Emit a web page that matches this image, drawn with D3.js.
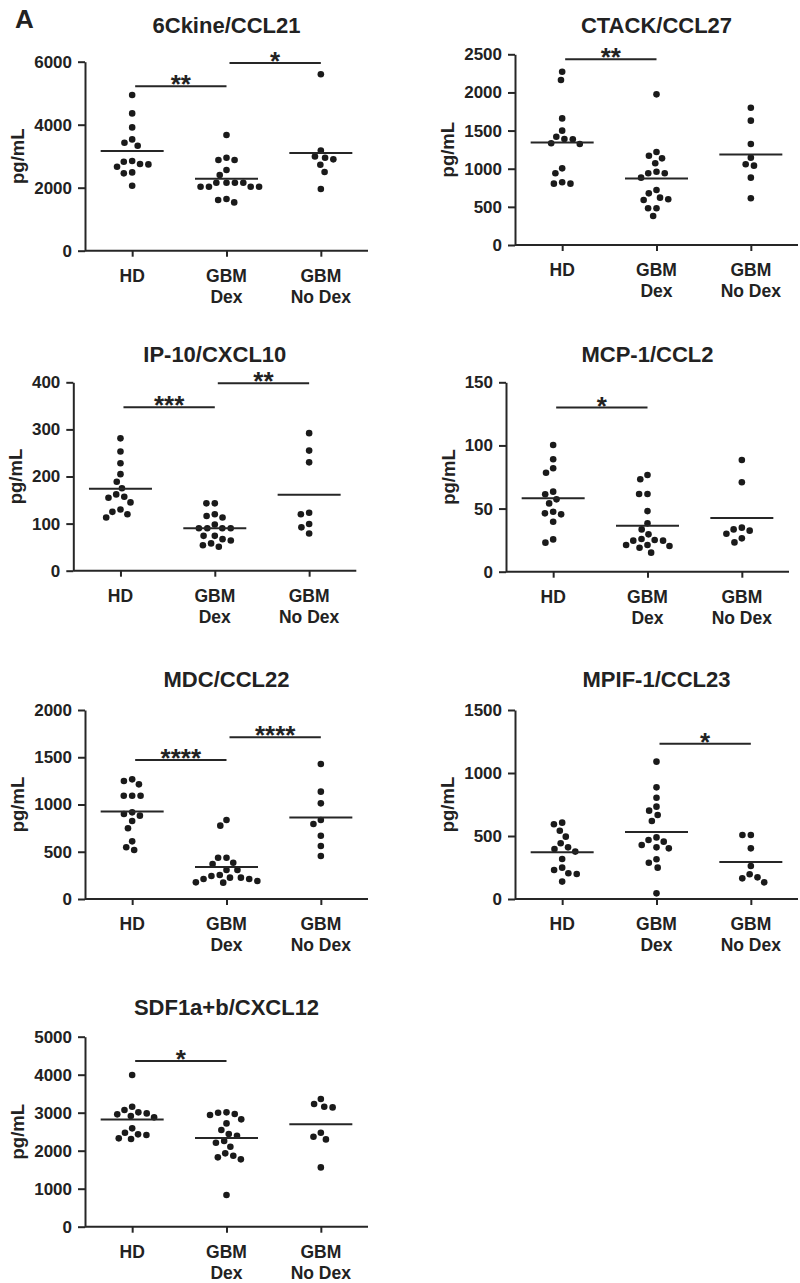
<!DOCTYPE html>
<html><head><meta charset="utf-8">
<script src="https://cdn.jsdelivr.net/npm/d3@7"></script>
<style>
body{margin:0;background:#fff}
text{font-family:"Liberation Sans",Arial,Helvetica,sans-serif;font-weight:bold;fill:#222}
</style>
</head><body>
<svg id="chart" width="800" height="1283"></svg>
<script>
// ---------- DATA ----------
const groups = ["HD", "GBM Dex", "GBM No Dex"];
const groupLabels = [["HD"], ["GBM", "Dex"], ["GBM", "No Dex"]];

const ccl21Title = "6Ckine/CCL21";
const ccl21Ticks = [0, 2000, 4000, 6000];
const ccl21HD = [4941, 4359, 3915, 3534, 3428, 3333, 2846, 2825, 2751, 2740, 2666, 2486, 2455, 2063];
const ccl21Dex = [3671, 2952, 2878, 2878, 2560, 2402, 2158, 2158, 2158, 2158, 2031, 2031, 2031, 2031, 1640, 1608, 1534];
const ccl21NoDex = [5600, 3180, 2990, 2950, 2900, 2730, 2500, 1960];
const ccl21Sig = [{a: 0, b: 1, y: 5220, label: "**"}, {a: 1, b: 2, y: 5960, label: "*"}];

const ccl27Title = "CTACK/CCL27";
const ccl27Ticks = [0, 500, 1000, 1500, 2000, 2500];
const ccl27HD = [2272, 2163, 1660, 1499, 1420, 1385, 1324, 1333, 1390, 1005, 940, 822, 804, 804];
const ccl27Dex = [1975, 1219, 1171, 1136, 1071, 961, 940, 940, 883, 721, 677, 621, 599, 590, 481, 481, 380];
const ccl27NoDex = [1800, 1630, 1324, 1145, 1040, 1058, 883, 612];
const ccl27Sig = [{a: 0, b: 1, y: 2435, label: "**"}];

const cxcl10Title = "IP-10/CXCL10";
const cxcl10Ticks = [0, 100, 200, 300, 400];
const cxcl10HD = [281, 253, 228, 205, 189, 175, 162, 155, 157, 145, 125, 130, 113, 120];
const cxcl10Dex = [143, 143, 116, 120, 113, 98, 90, 90, 90, 90, 67, 74, 74, 64, 58, 51, 54];
const cxcl10NoDex = [292, 255, 230, 123, 120, 99, 92, 79];
const cxcl10Sig = [{a: 0, b: 1, y: 347, label: "***"}, {a: 1, b: 2, y: 398, label: "**"}];

const ccl2Title = "MCP-1/CCL2";
const ccl2Ticks = [0, 50, 100, 150];
const ccl2HD = [100.4, 89, 81.9, 78.4, 61.3, 57.3, 63.4, 54.1, 46.2, 45.4, 47.5, 39.6, 25.6, 23];
const ccl2Dex = [73.2, 76.6, 61.5, 61.5, 48, 38.3, 33.5, 29.6, 25.9, 21.1, 24.6, 25.1, 24.6, 20.3, 15.1, 19, 21.1];
const ccl2NoDex = [88.5, 70.8, 33.5, 32.5, 34.9, 30.1, 23.2, 26.4];
const ccl2Sig = [{a: 0, b: 1, y: 130, label: "*"}];

const ccl22Title = "MDC/CCL22";
const ccl22Ticks = [0, 500, 1000, 1500, 2000];
const ccl22HD = [1266, 1213, 1249, 1093, 1093, 1093, 917, 882, 899, 825, 748, 610, 518, 547];
const ccl22Dex = [836, 776, 437, 437, 384, 370, 307, 307, 254, 226, 212, 173, 176, 212, 226, 243, 190];
const ccl22NoDex = [1428, 1136, 1012, 836, 794, 670, 561, 455];
const ccl22Sig = [{a: 0, b: 1, y: 1471, label: "****"}, {a: 1, b: 2, y: 1711, label: "****"}];

const ccl23Title = "MPIF-1/CCL23";
const ccl23Ticks = [0, 500, 1000, 1500];
const ccl23HD = [606, 593, 542, 495, 442, 410, 397, 376, 317, 249, 230, 204, 198, 138];
const ccl23Dex = [1090, 886, 804, 733, 701, 667, 619, 489, 468, 455, 429, 402, 410, 288, 315, 249, 45];
const ccl23NoDex = [508, 508, 402, 262, 172, 164, 196, 132];
const ccl23Sig = [{a: 1, b: 2, y: 1232, label: "*"}];

const cxcl12Title = "SDF1a+b/CXCL12";
const cxcl12Ticks = [0, 1000, 2000, 3000, 4000, 5000];
const cxcl12HD = [3991, 3009, 2956, 2877, 3158, 2912, 2982, 3070, 2588, 2474, 2412, 2307, 2325, 2430];
const cxcl12Dex = [3000, 2939, 2965, 3009, 2825, 2719, 2544, 2439, 2395, 2254, 2211, 2105, 1930, 1825, 1772, 1868, 833];
const cxcl12NoDex = [3228, 3140, 3158, 3360, 2368, 2298, 2474, 1561];
const cxcl12Sig = [{a: 0, b: 1, y: 4360, label: "*"}];

const yLabel = "pg/mL";
const panelLetter = "A";

// ---------- LAYOUT ----------
const panels = [
  {title: ccl21Title, ticks: ccl21Ticks, series: [ccl21HD, ccl21Dex, ccl21NoDex], sig: ccl21Sig, ax: 85, top: 61.7, bot: 250.7, tb: 33},
  {title: ccl27Title, ticks: ccl27Ticks, series: [ccl27HD, ccl27Dex, ccl27NoDex], sig: ccl27Sig, ax: 515, top: 54.3, bot: 245, tb: 33},
  {title: cxcl10Title, ticks: cxcl10Ticks, series: [cxcl10HD, cxcl10Dex, cxcl10NoDex], sig: cxcl10Sig, ax: 73.3, top: 382.3, bot: 570.7, tb: 362},
  {title: ccl2Title, ticks: ccl2Ticks, series: [ccl2HD, ccl2Dex, ccl2NoDex], sig: ccl2Sig, ax: 506, top: 382.3, bot: 571.7, tb: 362},
  {title: ccl22Title, ticks: ccl22Ticks, series: [ccl22HD, ccl22Dex, ccl22NoDex], sig: ccl22Sig, ax: 85, top: 710, bot: 899, tb: 687},
  {title: ccl23Title, ticks: ccl23Ticks, series: [ccl23HD, ccl23Dex, ccl23NoDex], sig: ccl23Sig, ax: 515, top: 710, bot: 899, tb: 687},
  {title: cxcl12Title, ticks: cxcl12Ticks, series: [cxcl12HD, cxcl12Dex, cxcl12NoDex], sig: cxcl12Sig, ax: 85, top: 1036.7, bot: 1226.7, tb: 1015}
];

const AXIS_W = 283;
const INK = "#262626";
const svg = d3.select("#chart");

svg.append("text").attr("x", 15).attr("y", 28).style("font-size", "26px").text(panelLetter);

function swarm(vals, y, D) {
  const order = vals.map((v, i) => i).sort((a, b) => vals[b] - vals[a]);
  const placed = [], out = new Array(vals.length);
  for (const i of order) {
    const py = y(vals[i]);
    const ints = [];
    for (const p of placed) {
      const dy = Math.abs(p.y - py);
      if (dy < D) { const w = Math.sqrt(D * D - dy * dy); ints.push([p.x - w, p.x + w]); }
    }
    const cands = [0];
    ints.forEach(([a, b]) => cands.push(a, b));
    cands.sort((a, b) => Math.abs(a) - Math.abs(b) || a - b);
    let x = 0;
    for (const c of cands) {
      if (ints.every(([a, b]) => c <= a + 1e-6 || c >= b - 1e-6)) { x = c; break; }
    }
    placed.push({x, y: py});
    out[i] = x;
  }
  return out;
}

panels.forEach(p => {
  const g = svg.append("g");
  const x = d3.scalePoint().domain(groups).range([p.ax, p.ax + AXIS_W]).padding(0.5);
  const y = d3.scaleLinear().domain([0, d3.max(p.ticks)]).range([p.bot, p.top]);

  // title
  g.append("text").attr("x", p.ax + AXIS_W / 2).attr("y", p.tb)
    .attr("text-anchor", "middle").style("font-size", "22px").text(p.title);

  // y axis
  const ya = g.append("g").attr("transform", `translate(${p.ax},0)`)
    .call(d3.axisLeft(y).tickValues(p.ticks).tickFormat(d3.format("d")).tickSize(7).tickPadding(6).tickSizeOuter(0));
  ya.select(".domain").attr("stroke", INK).attr("stroke-width", 2);
  ya.selectAll(".tick line").attr("stroke", INK).attr("stroke-width", 2);
  ya.selectAll(".tick text").style("font-size", "17px").attr("fill", INK)
    .style("font-family", '"Liberation Sans",Arial,sans-serif').style("font-weight", "bold");

  // x axis
  const xa = g.append("g").attr("transform", `translate(0,${p.bot})`)
    .call(d3.axisBottom(x).tickSize(6).tickSizeOuter(0).tickFormat(""));
  xa.select(".domain").attr("stroke", INK).attr("stroke-width", 2)
    .attr("d", `M${p.ax},0H${p.ax + AXIS_W}`);
  xa.selectAll(".tick line").attr("stroke", INK).attr("stroke-width", 2);

  groups.forEach((grp, gi) => {
    const t = g.append("text").attr("text-anchor", "middle").style("font-size", "17.5px");
    groupLabels[gi].forEach((line, li) => {
      t.append("tspan").attr("x", x(grp)).attr("y", p.bot + 31 + li * 21).text(line);
    });
  });

  // y label
  let minX = Infinity;
  ya.selectAll(".tick text").each(function () {
    const b = this.getBBox();
    minX = Math.min(minX, p.ax + b.x);
  });
  g.append("text").attr("transform", `translate(${minX - 10},${(p.top + p.bot) / 2}) rotate(-90)`)
    .attr("text-anchor", "middle").style("font-size", "18.5px").text(yLabel);

  // dots and means
  p.series.forEach((vals, gi) => {
    const cx = x(groups[gi]);
    const offs = swarm(vals, y, 8.4);
    g.selectAll(null).data(vals).enter().append("circle")
      .attr("cx", (d, i) => cx + offs[i]).attr("cy", d => y(d)).attr("r", 3.3).attr("fill", "#1a1a1a");
    const m = d3.mean(vals);
    g.append("line").attr("x1", cx - 31.5).attr("x2", cx + 31.5)
      .attr("y1", y(m)).attr("y2", y(m)).attr("stroke", INK).attr("stroke-width", 2);
  });

  // significance
  p.sig.forEach(s => {
    const x1 = x(groups[s.a]) + 3, x2 = x(groups[s.b]);
    g.append("line").attr("x1", x1).attr("x2", x2).attr("y1", y(s.y)).attr("y2", y(s.y))
      .attr("stroke", INK).attr("stroke-width", 2);
    g.append("text").attr("x", (x1 + x2) / 2).attr("y", y(s.y) + 7)
      .attr("text-anchor", "middle").style("font-size", "26px").text(s.label);
  });
});
</script>
</body></html>
